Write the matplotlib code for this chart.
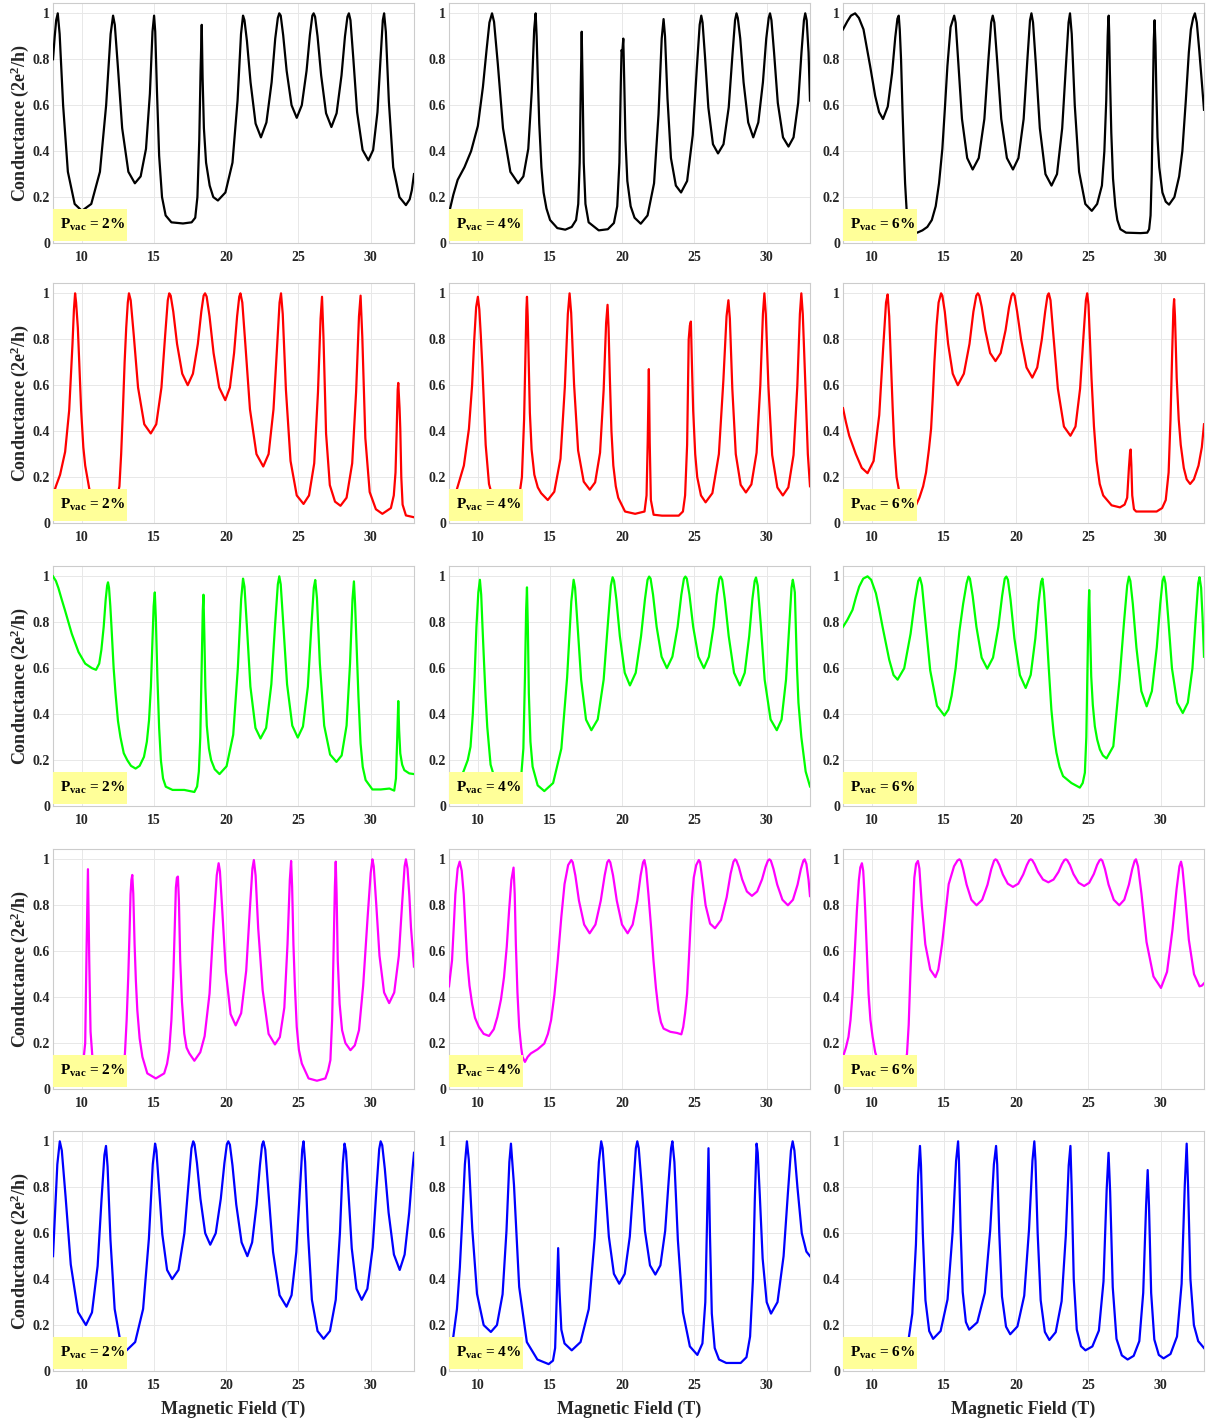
import matplotlib
matplotlib.use('Agg')
import matplotlib.pyplot as plt
from matplotlib.patches import Rectangle

plt.rcParams['font.family'] = ['Liberation Serif', 'DejaVu Serif']
plt.rcParams['font.weight'] = 'bold'
plt.rcParams['mathtext.fontset'] = 'custom'
plt.rcParams['mathtext.rm'] = 'Liberation Serif:bold'
plt.rcParams['mathtext.bf'] = 'Liberation Serif:bold'
plt.rcParams['mathtext.it'] = 'Liberation Serif:bold'

# conductance curves, (field T, conductance 2e^2/h)
black_2 = [(8.0, 0.80), (8.12, 0.90), (8.22, 0.97), (8.33, 1.0), (8.46, 0.91), (8.70, 0.60), (9.03, 0.31), (9.50, 0.17),
           (10.0, 0.14), (10.65, 0.17), (11.25, 0.31), (11.68, 0.60), (11.99, 0.91), (12.16, 0.99), (12.28, 0.95),
           (12.49, 0.77), (12.79, 0.50), (13.22, 0.31), (13.67, 0.26), (14.07, 0.29), (14.44, 0.41), (14.71, 0.65),
           (14.89, 0.92), (15.0, 0.99), (15.08, 0.92), (15.2, 0.66), (15.35, 0.38), (15.55, 0.2), (15.8, 0.12),
           (16.2, 0.09), (17.0, 0.085), (17.6, 0.09), (17.85, 0.11), (18.0, 0.2), (18.13, 0.45), (18.22, 0.75),
           (18.3, 0.95), (18.36, 0.72), (18.45, 0.5), (18.6, 0.35), (18.85, 0.25), (19.1, 0.2), (19.42, 0.185),
           (19.94, 0.22), (20.43, 0.35), (20.78, 0.62), (21.02, 0.91), (21.16, 0.99), (21.26, 0.97), (21.43, 0.88),
           (21.68, 0.70), (22.03, 0.52), (22.4, 0.46), (22.78, 0.525), (23.14, 0.70), (23.39, 0.89), (23.57, 0.98),
           (23.67, 1.0), (23.77, 0.99), (23.94, 0.905), (24.18, 0.75), (24.52, 0.60), (24.88, 0.545), (25.23, 0.60),
           (25.56, 0.75), (25.79, 0.905), (25.96, 0.99), (26.05, 1.0), (26.15, 0.985), (26.32, 0.90), (26.57, 0.73),
           (26.91, 0.565), (27.28, 0.505), (27.64, 0.565), (27.98, 0.73), (28.22, 0.90), (28.39, 0.985), (28.49, 1.0),
           (28.60, 0.97), (28.79, 0.81), (29.06, 0.57), (29.44, 0.405), (29.84, 0.36), (30.17, 0.405), (30.47, 0.57),
           (30.69, 0.81), (30.84, 0.97), (30.93, 1.0), (31.05, 0.92), (31.26, 0.615), (31.56, 0.33), (31.99, 0.20),
           (32.44, 0.165), (32.7, 0.19), (32.85, 0.23), (33.0, 0.30)]
black_4 = [(8.0, 0.13), (8.3, 0.21), (8.6, 0.275), (9.07, 0.33), (9.53, 0.40), (10.0, 0.51), (10.35, 0.68), (10.6, 0.84),
           (10.8, 0.96), (10.98, 1.0), (11.12, 0.963), (11.38, 0.78), (11.74, 0.50), (12.25, 0.31), (12.79, 0.26),
           (13.15, 0.29), (13.49, 0.41), (13.73, 0.66), (13.90, 0.93), (14.0, 1.0), (14.07, 0.9), (14.15, 0.72),
           (14.25, 0.52), (14.4, 0.33), (14.55, 0.22), (14.75, 0.15), (15.0, 0.10), (15.5, 0.065), (16.05, 0.058),
           (16.5, 0.07), (16.8, 0.1), (16.95, 0.17), (17.05, 0.35), (17.13, 0.7), (17.19, 0.92), (17.25, 0.7),
           (17.33, 0.35), (17.45, 0.17), (17.67, 0.09), (18.37, 0.055), (19.0, 0.06), (19.42, 0.087), (19.65, 0.16),
           (19.8, 0.35), (19.9, 0.7), (19.95, 0.84), (20.0, 0.83), (20.07, 0.89), (20.13, 0.72), (20.22, 0.45),
           (20.35, 0.27), (20.58, 0.16), (20.85, 0.11), (21.28, 0.084), (21.75, 0.12), (22.20, 0.26), (22.51, 0.56),
           (22.73, 0.89), (22.86, 0.975), (22.96, 0.90), (23.13, 0.63), (23.37, 0.37), (23.71, 0.25), (24.07, 0.22),
           (24.49, 0.27), (24.88, 0.47), (25.16, 0.76), (25.36, 0.95), (25.47, 0.99), (25.56, 0.96), (25.73, 0.81),
           (25.96, 0.59), (26.28, 0.43), (26.63, 0.39), (27.01, 0.43), (27.37, 0.59), (27.63, 0.82), (27.81, 0.97),
           (27.91, 1.0), (28.0, 0.98), (28.17, 0.89), (28.40, 0.70), (28.72, 0.525), (29.07, 0.46), (29.42, 0.525),
           (29.74, 0.70), (29.97, 0.89), (30.14, 0.98), (30.23, 1.0), (30.33, 0.97), (30.51, 0.83), (30.77, 0.61),
           (31.13, 0.46), (31.51, 0.42), (31.86, 0.46), (32.18, 0.61), (32.41, 0.83), (32.58, 0.97), (32.67, 1.0),
           (32.77, 0.97), (32.9, 0.83), (33.0, 0.62)]
black_6 = [(8.0, 0.93), (8.3, 0.965), (8.55, 0.99), (8.84, 1.0), (9.1, 0.98), (9.42, 0.93), (9.88, 0.77), (10.23, 0.64),
           (10.5, 0.57), (10.77, 0.54), (11.10, 0.594), (11.40, 0.74), (11.62, 0.896), (11.77, 0.977), (11.86, 0.99),
           (11.93, 0.93), (12.02, 0.80), (12.12, 0.58), (12.21, 0.41), (12.3, 0.26), (12.4, 0.15), (12.6, 0.08),
           (12.85, 0.05), (13.14, 0.045), (13.5, 0.055), (13.84, 0.07), (14.15, 0.10), (14.42, 0.16), (14.65, 0.26),
           (14.88, 0.41), (15.05, 0.58), (15.23, 0.77), (15.45, 0.94), (15.7, 0.99), (15.80, 0.96), (15.98, 0.79),
           (16.24, 0.54), (16.60, 0.37), (16.98, 0.32), (17.40, 0.37), (17.79, 0.54), (18.06, 0.79), (18.26, 0.96),
           (18.37, 0.99), (18.48, 0.96), (18.68, 0.79), (18.96, 0.54), (19.35, 0.37), (19.77, 0.32), (20.15, 0.37),
           (20.51, 0.54), (20.77, 0.80), (20.95, 0.97), (21.05, 1.0), (21.16, 0.96), (21.36, 0.775), (21.63, 0.50),
           (22.02, 0.30), (22.44, 0.25), (22.82, 0.30), (23.18, 0.50), (23.44, 0.775), (23.62, 0.96), (23.72, 1.0),
           (23.84, 0.91), (24.05, 0.60), (24.35, 0.31), (24.78, 0.17), (25.23, 0.14), (25.6, 0.17), (25.93, 0.25),
           (26.1, 0.4), (26.23, 0.62), (26.33, 0.9), (26.37, 0.97), (26.4, 0.99), (26.44, 0.9), (26.48, 0.75),
           (26.58, 0.48), (26.7, 0.28), (26.86, 0.16), (27.0, 0.1), (27.21, 0.06), (27.6, 0.045), (28.6, 0.043),
           (29.07, 0.045), (29.2, 0.06), (29.3, 0.12), (29.38, 0.3), (29.45, 0.6), (29.52, 0.88), (29.58, 0.97),
           (29.64, 0.86), (29.7, 0.66), (29.78, 0.46), (29.9, 0.33), (30.12, 0.22), (30.35, 0.18), (30.58, 0.167),
           (30.95, 0.2), (31.28, 0.29), (31.5, 0.4), (31.74, 0.62), (31.95, 0.83), (32.09, 0.93), (32.25, 0.98),
           (32.37, 1.0), (32.5, 0.96), (32.67, 0.84), (32.85, 0.70), (33.0, 0.58)]

red_2 = [(8.0, 0.12), (8.2, 0.16), (8.49, 0.21), (8.84, 0.31), (9.12, 0.49), (9.35, 0.78), (9.45, 0.93), (9.53, 1.0),
         (9.6, 0.96), (9.72, 0.85), (9.83, 0.68), (9.95, 0.49), (10.1, 0.33), (10.23, 0.25), (10.51, 0.15), (11.0, 0.06),
         (11.6, 0.03), (12.2, 0.07), (12.5, 0.13), (12.6, 0.16), (12.72, 0.3), (12.84, 0.49), (12.96, 0.7),
         (13.07, 0.85), (13.18, 0.96), (13.26, 1.0), (13.38, 0.97), (13.59, 0.82), (13.89, 0.59), (14.32, 0.43),
         (14.77, 0.39), (15.15, 0.43), (15.51, 0.59), (15.77, 0.82), (15.95, 0.97), (16.05, 1.0), (16.15, 0.99),
         (16.33, 0.92), (16.59, 0.78), (16.95, 0.65), (17.33, 0.60), (17.69, 0.65), (18.03, 0.78), (18.27, 0.92),
         (18.43, 0.99), (18.53, 1.0), (18.64, 0.986), (18.84, 0.90), (19.12, 0.74), (19.51, 0.59), (19.93, 0.535),
         (20.25, 0.59), (20.54, 0.74), (20.75, 0.90), (20.90, 0.986), (20.98, 1.0), (21.11, 0.96), (21.33, 0.77),
         (21.64, 0.495), (22.09, 0.30), (22.56, 0.246), (22.93, 0.30), (23.27, 0.495), (23.52, 0.77), (23.69, 0.96),
         (23.79, 1.0), (23.91, 0.91), (24.13, 0.58), (24.45, 0.27), (24.88, 0.12), (25.35, 0.083), (25.73, 0.12),
         (26.09, 0.26), (26.35, 0.57), (26.53, 0.89), (26.63, 0.985), (26.73, 0.81), (26.91, 0.39), (27.17, 0.165),
         (27.53, 0.093), (27.91, 0.075), (28.33, 0.11), (28.72, 0.26), (28.99, 0.57), (29.19, 0.90), (29.3, 0.99),
         (29.42, 0.81), (29.63, 0.37), (29.93, 0.135), (30.36, 0.06), (30.81, 0.04), (31.4, 0.065), (31.6, 0.12),
         (31.72, 0.22), (31.8, 0.4), (31.87, 0.58), (31.91, 0.61), (31.95, 0.56), (32.0, 0.5), (32.05, 0.41),
         (32.12, 0.2), (32.21, 0.08), (32.44, 0.033), (33.0, 0.025)]
red_4 = [(8.0, 0.05), (8.3, 0.09), (8.56, 0.15), (9.03, 0.25), (9.38, 0.41), (9.6, 0.6), (9.75, 0.8), (9.88, 0.94),
         (10.0, 0.985), (10.1, 0.93), (10.2, 0.82), (10.31, 0.68), (10.43, 0.5), (10.54, 0.34), (10.77, 0.17),
         (11.2, 0.07), (11.9, 0.03), (12.5, 0.06), (12.85, 0.11), (13.05, 0.2), (13.2, 0.45), (13.3, 0.75),
         (13.36, 0.93), (13.4, 0.985), (13.45, 0.9), (13.52, 0.7), (13.6, 0.48), (13.72, 0.32), (13.91, 0.21),
         (14.15, 0.155), (14.38, 0.13), (14.84, 0.10), (15.29, 0.136), (15.72, 0.28), (16.02, 0.59), (16.23, 0.91),
         (16.35, 1.0), (16.46, 0.915), (16.66, 0.605), (16.94, 0.316), (17.33, 0.18), (17.75, 0.145), (18.12, 0.177),
         (18.46, 0.306), (18.71, 0.58), (18.88, 0.87), (18.98, 0.95), (19.05, 0.85), (19.14, 0.63), (19.25, 0.4),
         (19.38, 0.25), (19.55, 0.16), (19.72, 0.11), (20.19, 0.05), (20.89, 0.04), (21.54, 0.05), (21.68, 0.12),
         (21.76, 0.35), (21.84, 0.67), (21.9, 0.35), (21.98, 0.1), (22.17, 0.036), (22.75, 0.032), (23.91, 0.032),
         (24.2, 0.05), (24.35, 0.12), (24.49, 0.34), (24.6, 0.8), (24.68, 0.86), (24.75, 0.877), (24.82, 0.7),
         (24.91, 0.49), (25.05, 0.3), (25.19, 0.2), (25.45, 0.12), (25.77, 0.09), (26.24, 0.13), (26.69, 0.3),
         (27.0, 0.62), (27.22, 0.9), (27.35, 0.97), (27.45, 0.89), (27.62, 0.585), (27.86, 0.30), (28.2, 0.166),
         (28.56, 0.133), (28.94, 0.168), (29.30, 0.306), (29.56, 0.60), (29.74, 0.91), (29.84, 1.0), (29.94, 0.91),
         (30.12, 0.595), (30.38, 0.296), (30.74, 0.155), (31.12, 0.12), (31.5, 0.155), (31.86, 0.296), (32.12, 0.595),
         (32.3, 0.91), (32.4, 1.0), (32.5, 0.91), (32.68, 0.6), (32.85, 0.3), (33.0, 0.16)]
red_6 = [(8.0, 0.50), (8.2, 0.44), (8.43, 0.38), (8.89, 0.30), (9.3, 0.24), (9.7, 0.217), (10.12, 0.27), (10.51, 0.47),
         (10.78, 0.76), (10.98, 0.96), (11.09, 0.995), (11.2, 0.9), (11.32, 0.70), (11.44, 0.5), (11.55, 0.34),
         (11.71, 0.2), (12.0, 0.1), (12.5, 0.05), (13.0, 0.07), (13.29, 0.11), (13.55, 0.16), (13.75, 0.22),
         (13.95, 0.32), (14.1, 0.41), (14.22, 0.55), (14.33, 0.70), (14.48, 0.86), (14.62, 0.96), (14.79, 1.0),
         (14.88, 0.99), (15.05, 0.92), (15.28, 0.78), (15.60, 0.65), (15.95, 0.60), (16.37, 0.65), (16.76, 0.78),
         (17.03, 0.92), (17.23, 0.99), (17.34, 1.0), (17.44, 0.99), (17.61, 0.94), (17.85, 0.84), (18.19, 0.74),
         (18.56, 0.705), (18.92, 0.74), (19.26, 0.84), (19.5, 0.94), (19.67, 0.99), (19.77, 1.0), (19.88, 0.99),
         (20.06, 0.92), (20.33, 0.80), (20.71, 0.677), (21.11, 0.633), (21.45, 0.677), (21.77, 0.80), (22.0, 0.92),
         (22.16, 0.99), (22.25, 1.0), (22.37, 0.97), (22.58, 0.81), (22.88, 0.585), (23.30, 0.42), (23.75, 0.38),
         (24.10, 0.42), (24.42, 0.585), (24.65, 0.81), (24.82, 0.97), (24.91, 1.0), (25.0, 0.95), (25.1, 0.8),
         (25.21, 0.63), (25.38, 0.42), (25.56, 0.27), (25.78, 0.17), (26.02, 0.12), (26.6, 0.077), (27.18, 0.068),
         (27.5, 0.08), (27.68, 0.11), (27.8, 0.24), (27.88, 0.31), (27.92, 0.32), (27.97, 0.25), (28.03, 0.12),
         (28.15, 0.06), (28.3, 0.05), (29.72, 0.05), (30.1, 0.065), (30.35, 0.1), (30.55, 0.22), (30.68, 0.45),
         (30.8, 0.75), (30.88, 0.93), (30.93, 0.975), (30.99, 0.9), (31.11, 0.63), (31.25, 0.45), (31.39, 0.34),
         (31.6, 0.24), (31.8, 0.19), (32.04, 0.17), (32.3, 0.19), (32.62, 0.25), (32.85, 0.33), (33.0, 0.43)]

green_2 = [(8.0, 1.0), (8.2, 0.98), (8.37, 0.95), (8.6, 0.9), (8.84, 0.85), (9.3, 0.75), (9.77, 0.67), (10.23, 0.62),
           (10.7, 0.60), (10.98, 0.593), (11.2, 0.62), (11.35, 0.68), (11.51, 0.78), (11.65, 0.9), (11.75, 0.96),
           (11.81, 0.974), (11.88, 0.95), (11.97, 0.87), (12.05, 0.78), (12.2, 0.6), (12.33, 0.49), (12.5, 0.37),
           (12.67, 0.30), (12.9, 0.23), (13.14, 0.20), (13.4, 0.175), (13.72, 0.163), (14.0, 0.175), (14.3, 0.214),
           (14.5, 0.28), (14.65, 0.373), (14.78, 0.52), (14.88, 0.706), (14.97, 0.87), (15.05, 0.93), (15.12, 0.82),
           (15.23, 0.56), (15.35, 0.34), (15.47, 0.20), (15.62, 0.12), (15.81, 0.084), (16.28, 0.07), (17.09, 0.07),
           (17.79, 0.061), (17.98, 0.085), (18.1, 0.15), (18.2, 0.3), (18.3, 0.62), (18.37, 0.85), (18.42, 0.92),
           (18.48, 0.75), (18.55, 0.52), (18.65, 0.35), (18.8, 0.25), (18.95, 0.20), (19.2, 0.16), (19.53, 0.139),
           (20.02, 0.173), (20.48, 0.31), (20.80, 0.60), (21.03, 0.90), (21.16, 0.99), (21.26, 0.955), (21.43, 0.78),
           (21.67, 0.52), (22.02, 0.34), (22.37, 0.294), (22.76, 0.34), (23.12, 0.53), (23.38, 0.79), (23.57, 0.965),
           (23.67, 1.0), (23.77, 0.965), (23.95, 0.79), (24.21, 0.53), (24.57, 0.35), (24.95, 0.298), (25.31, 0.346),
           (25.65, 0.52), (25.89, 0.78), (26.06, 0.95), (26.16, 0.984), (26.28, 0.905), (26.48, 0.62), (26.78, 0.35),
           (27.19, 0.224), (27.63, 0.192), (27.99, 0.22), (28.33, 0.35), (28.57, 0.62), (28.74, 0.90), (28.84, 0.978),
           (28.92, 0.88), (29.02, 0.706), (29.15, 0.48), (29.3, 0.272), (29.45, 0.17), (29.65, 0.113), (30.12, 0.072),
           (30.7, 0.072), (31.3, 0.076), (31.63, 0.067), (31.75, 0.12), (31.84, 0.3), (31.91, 0.457), (31.97, 0.33),
           (32.05, 0.229), (32.18, 0.18), (32.33, 0.156), (32.67, 0.142), (33.0, 0.139)]
green_4 = [(8.0, 0.05), (8.5, 0.08), (9.02, 0.153), (9.3, 0.2), (9.49, 0.258), (9.65, 0.4), (9.77, 0.56), (9.9, 0.78),
           (10.03, 0.93), (10.14, 0.985), (10.23, 0.92), (10.32, 0.78), (10.42, 0.634), (10.53, 0.48), (10.65, 0.344),
           (10.88, 0.18), (11.4, 0.07), (12.0, 0.03), (12.7, 0.07), (13.0, 0.13), (13.15, 0.25), (13.26, 0.56),
           (13.34, 0.85), (13.4, 0.952), (13.46, 0.78), (13.53, 0.49), (13.64, 0.28), (13.79, 0.171), (14.14, 0.09),
           (14.6, 0.065), (15.21, 0.10), (15.78, 0.25), (16.18, 0.56), (16.47, 0.89), (16.63, 0.985), (16.73, 0.95),
           (16.9, 0.79), (17.15, 0.55), (17.49, 0.376), (17.86, 0.33), (18.30, 0.377), (18.71, 0.55), (19.01, 0.80),
           (19.21, 0.96), (19.33, 0.996), (19.43, 0.98), (19.59, 0.90), (19.83, 0.74), (20.17, 0.58), (20.53, 0.525),
           (20.93, 0.58), (21.30, 0.74), (21.57, 0.90), (21.75, 0.985), (21.86, 0.999), (21.96, 0.99), (22.13, 0.92),
           (22.38, 0.78), (22.72, 0.65), (23.09, 0.60), (23.47, 0.65), (23.83, 0.78), (24.09, 0.92), (24.27, 0.99),
           (24.37, 0.999), (24.47, 0.99), (24.65, 0.92), (24.91, 0.78), (25.27, 0.65), (25.65, 0.60), (26.0, 0.65),
           (26.32, 0.78), (26.55, 0.92), (26.72, 0.99), (26.81, 0.999), (26.92, 0.985), (27.10, 0.90), (27.37, 0.74),
           (27.74, 0.58), (28.14, 0.525), (28.48, 0.58), (28.79, 0.74), (29.01, 0.90), (29.17, 0.98), (29.26, 0.995),
           (29.38, 0.96), (29.58, 0.80), (29.86, 0.55), (30.27, 0.377), (30.7, 0.33), (31.03, 0.376), (31.34, 0.55),
           (31.57, 0.79), (31.72, 0.95), (31.81, 0.985), (31.88, 0.96), (31.95, 0.93), (32.1, 0.6), (32.2, 0.45),
           (32.4, 0.3), (32.7, 0.15), (33.0, 0.085)]
green_6 = [(8.0, 0.78), (8.3, 0.81), (8.66, 0.854), (8.9, 0.91), (9.12, 0.955), (9.4, 0.99), (9.7, 1.0), (9.95, 0.985),
           (10.28, 0.926), (10.5, 0.86), (10.74, 0.78), (11.2, 0.637), (11.5, 0.57), (11.78, 0.55), (12.24, 0.60),
           (12.68, 0.75), (12.99, 0.90), (13.21, 0.98), (13.33, 0.994), (13.47, 0.96), (13.70, 0.81), (14.04, 0.59),
           (14.51, 0.436), (15.02, 0.394), (15.3, 0.42), (15.52, 0.48), (15.8, 0.6), (16.06, 0.76), (16.32, 0.88),
           (16.56, 0.97), (16.69, 0.999), (16.79, 0.99), (16.98, 0.915), (17.24, 0.78), (17.60, 0.646), (17.99, 0.598),
           (18.39, 0.646), (18.76, 0.78), (19.02, 0.915), (19.20, 0.99), (19.31, 0.999), (19.42, 0.985), (19.60, 0.90),
           (19.87, 0.73), (20.25, 0.57), (20.65, 0.514), (21.0, 0.571), (21.32, 0.73), (21.55, 0.89), (21.72, 0.976),
           (21.81, 0.99), (21.92, 0.93), (22.08, 0.78), (22.25, 0.6), (22.43, 0.42), (22.6, 0.31), (22.78, 0.232),
           (23.0, 0.17), (23.24, 0.13), (23.82, 0.10), (24.4, 0.08), (24.6, 0.1), (24.75, 0.145), (24.85, 0.3),
           (24.93, 0.6), (25.0, 0.85), (25.05, 0.94), (25.1, 0.8), (25.19, 0.564), (25.3, 0.44), (25.44, 0.347),
           (25.6, 0.29), (25.79, 0.246), (26.0, 0.22), (26.25, 0.207), (26.72, 0.26), (27.15, 0.55), (27.46, 0.8),
           (27.68, 0.96), (27.8, 0.999), (27.9, 0.98), (28.07, 0.88), (28.32, 0.69), (28.66, 0.50), (29.03, 0.434),
           (29.39, 0.50), (29.73, 0.69), (29.97, 0.88), (30.13, 0.98), (30.23, 0.999), (30.33, 0.97), (30.52, 0.82),
           (30.78, 0.60), (31.14, 0.45), (31.53, 0.405), (31.88, 0.45), (32.2, 0.60), (32.43, 0.82), (32.6, 0.97),
           (32.69, 0.996), (32.8, 0.95), (32.9, 0.82), (33.0, 0.65)]

magenta_2 = [(8.0, 0.02), (9.0, 0.03), (9.8, 0.06), (10.1, 0.12), (10.23, 0.2), (10.33, 0.63), (10.42, 0.957),
             (10.51, 0.56), (10.6, 0.25), (10.75, 0.12), (11.0, 0.05), (11.8, 0.02), (12.6, 0.06), (12.85, 0.11),
             (12.98, 0.152), (13.1, 0.3), (13.21, 0.487), (13.3, 0.68), (13.37, 0.848), (13.43, 0.91), (13.49, 0.932),
             (13.56, 0.85), (13.65, 0.63), (13.74, 0.47), (13.84, 0.342), (14.0, 0.22), (14.19, 0.14), (14.53, 0.068),
             (15.12, 0.046), (15.7, 0.068), (15.9, 0.11), (16.05, 0.169), (16.2, 0.3), (16.33, 0.487), (16.43, 0.7),
             (16.51, 0.877), (16.58, 0.92), (16.65, 0.925), (16.72, 0.82), (16.81, 0.559), (16.93, 0.38),
             (17.09, 0.241), (17.25, 0.18), (17.44, 0.155), (17.79, 0.123), (18.2, 0.16), (18.5, 0.23), (18.84, 0.415),
             (19.1, 0.7), (19.34, 0.93), (19.47, 0.983), (19.56, 0.948), (19.73, 0.77), (19.97, 0.51), (20.30, 0.326),
             (20.65, 0.277), (21.03, 0.33), (21.38, 0.515), (21.63, 0.78), (21.81, 0.96), (21.91, 0.997), (22.03, 0.93),
             (22.21, 0.70), (22.52, 0.43), (22.93, 0.24), (23.37, 0.194), (23.71, 0.226), (24.02, 0.354), (24.24, 0.63),
             (24.40, 0.91), (24.49, 0.993), (24.56, 0.88), (24.65, 0.63), (24.75, 0.45), (24.88, 0.27), (25.03, 0.17),
             (25.23, 0.111), (25.7, 0.046), (26.28, 0.036), (26.86, 0.046), (27.05, 0.08), (27.21, 0.126), (27.33, 0.3),
             (27.44, 0.63), (27.52, 0.88), (27.58, 0.99), (27.64, 0.85), (27.72, 0.56), (27.85, 0.37), (28.02, 0.256),
             (28.25, 0.2), (28.6, 0.169), (28.9, 0.19), (29.19, 0.256), (29.48, 0.45), (29.79, 0.75), (30.0, 0.94),
             (30.12, 1.0), (30.21, 0.97), (30.38, 0.81), (30.61, 0.58), (30.93, 0.42), (31.28, 0.374), (31.63, 0.42),
             (31.95, 0.58), (32.18, 0.81), (32.35, 0.97), (32.44, 1.0), (32.55, 0.96), (32.68, 0.84), (32.79, 0.704),
             (33.0, 0.533)]
magenta_4 = [(8.0, 0.447), (8.21, 0.56), (8.34, 0.72), (8.44, 0.848), (8.6, 0.96), (8.74, 0.99), (8.88, 0.95),
             (9.02, 0.848), (9.14, 0.7), (9.26, 0.56), (9.42, 0.45), (9.6, 0.371), (9.8, 0.31), (10.07, 0.27),
             (10.4, 0.24), (10.77, 0.231), (11.1, 0.26), (11.35, 0.314), (11.6, 0.39), (11.81, 0.487), (12.0, 0.62),
             (12.16, 0.776), (12.32, 0.91), (12.47, 0.964), (12.55, 0.85), (12.63, 0.63), (12.74, 0.42), (12.86, 0.27),
             (13.0, 0.18), (13.09, 0.14), (13.26, 0.118), (13.45, 0.14), (13.67, 0.155), (14.14, 0.173), (14.6, 0.198),
             (14.85, 0.24), (15.07, 0.30), (15.3, 0.41), (15.53, 0.56), (15.78, 0.75), (16.0, 0.892), (16.25, 0.975),
             (16.47, 0.997), (16.57, 0.987), (16.75, 0.93), (17.0, 0.82), (17.36, 0.716), (17.74, 0.678),
             (18.14, 0.716), (18.51, 0.82), (18.78, 0.93), (18.96, 0.987), (19.07, 0.997), (19.17, 0.987),
             (19.36, 0.93), (19.62, 0.82), (19.98, 0.716), (20.37, 0.678), (20.72, 0.716), (21.04, 0.82), (21.27, 0.93),
             (21.44, 0.987), (21.53, 0.997), (21.65, 0.96), (21.81, 0.848), (22.0, 0.7), (22.16, 0.56), (22.33, 0.44),
             (22.51, 0.342), (22.68, 0.29), (22.86, 0.263), (23.33, 0.249), (23.79, 0.244), (24.09, 0.238),
             (24.22, 0.27), (24.35, 0.33), (24.49, 0.415), (24.6, 0.55), (24.72, 0.704), (24.83, 0.83), (24.95, 0.92),
             (25.12, 0.975), (25.3, 0.997), (25.39, 0.988), (25.55, 0.91), (25.77, 0.8), (26.08, 0.72), (26.42, 0.70),
             (26.84, 0.736), (27.23, 0.835), (27.50, 0.937), (27.70, 0.99), (27.81, 1.0), (27.90, 0.995),
             (28.07, 0.967), (28.30, 0.913), (28.63, 0.86), (28.98, 0.841), (29.34, 0.86), (29.68, 0.913),
             (29.92, 0.967), (30.09, 0.995), (30.19, 1.0), (30.29, 0.994), (30.47, 0.958), (30.73, 0.89),
             (31.09, 0.824), (31.47, 0.80), (31.82, 0.824), (32.14, 0.89), (32.37, 0.958), (32.54, 0.994),
             (32.63, 1.0), (32.75, 0.98), (32.9, 0.91), (33.0, 0.84)]
magenta_6 = [(8.0, 0.14), (8.2, 0.18), (8.38, 0.227), (8.52, 0.3), (8.66, 0.415), (8.8, 0.58), (8.96, 0.776),
             (9.1, 0.91), (9.2, 0.965), (9.31, 0.983), (9.4, 0.95), (9.47, 0.87), (9.54, 0.776), (9.65, 0.6),
             (9.77, 0.415), (9.9, 0.3), (10.05, 0.227), (10.23, 0.16), (10.7, 0.07), (11.3, 0.03), (11.9, 0.06),
             (12.2, 0.1), (12.43, 0.152), (12.55, 0.28), (12.66, 0.487), (12.8, 0.72), (12.94, 0.92), (13.06, 0.98),
             (13.19, 0.993), (13.29, 0.96), (13.46, 0.8), (13.7, 0.63), (14.04, 0.52), (14.4, 0.487), (14.6, 0.52),
             (14.86, 0.63), (15.32, 0.892), (15.69, 0.97), (15.93, 0.995), (16.06, 1.0), (16.16, 0.994),
             (16.32, 0.958), (16.56, 0.89), (16.89, 0.824), (17.25, 0.80), (17.64, 0.824), (18.01, 0.89),
             (18.27, 0.958), (18.46, 0.994), (18.56, 1.0), (18.66, 0.996), (18.83, 0.975), (19.07, 0.934),
             (19.41, 0.894), (19.77, 0.88), (20.14, 0.894), (20.48, 0.934), (20.73, 0.975), (20.9, 0.996), (21.0, 1.0),
             (21.1, 0.997), (21.27, 0.979), (21.51, 0.945), (21.85, 0.912), (22.22, 0.90), (22.58, 0.912),
             (22.92, 0.945), (23.16, 0.979), (23.33, 0.997), (23.43, 1.0), (23.53, 0.996), (23.71, 0.976),
             (23.96, 0.936), (24.32, 0.898), (24.7, 0.884), (25.05, 0.898), (25.37, 0.936), (25.6, 0.976),
             (25.77, 0.996), (25.86, 1.0), (25.96, 0.994), (26.14, 0.958), (26.39, 0.89), (26.75, 0.824), (27.13, 0.80),
             (27.48, 0.824), (27.80, 0.89), (28.03, 0.958), (28.2, 0.994), (28.29, 1.0), (28.43, 0.97), (28.67, 0.85),
             (29.02, 0.64), (29.5, 0.49), (30.02, 0.44), (30.44, 0.51), (30.81, 0.69), (31.10, 0.87), (31.3, 0.97),
             (31.41, 0.99), (31.51, 0.96), (31.69, 0.84), (31.95, 0.65), (32.31, 0.5), (32.69, 0.447), (32.85, 0.45),
             (33.0, 0.46)]

blue_2 = [(8.0, 0.5), (8.15, 0.7), (8.3, 0.9), (8.47, 1.0), (8.61, 0.96), (8.87, 0.76), (9.23, 0.464), (9.74, 0.256),
          (10.28, 0.20), (10.70, 0.255), (11.09, 0.457), (11.36, 0.746), (11.56, 0.94), (11.67, 0.98), (11.78, 0.89),
          (11.98, 0.57), (12.27, 0.27), (12.67, 0.126), (13.1, 0.09), (13.69, 0.126), (14.24, 0.27), (14.64, 0.576),
          (14.91, 0.90), (15.07, 0.99), (15.16, 0.96), (15.33, 0.81), (15.57, 0.595), (15.90, 0.44), (16.25, 0.40),
          (16.69, 0.44), (17.10, 0.60), (17.39, 0.82), (17.59, 0.97), (17.71, 1.0), (17.80, 0.987), (17.97, 0.905),
          (18.21, 0.75), (18.54, 0.60), (18.89, 0.55), (19.27, 0.60), (19.62, 0.75), (19.87, 0.905), (20.04, 0.987),
          (20.14, 1.0), (20.25, 0.985), (20.43, 0.895), (20.69, 0.725), (21.06, 0.56), (21.46, 0.50), (21.79, 0.56),
          (22.10, 0.725), (22.33, 0.895), (22.48, 0.985), (22.57, 1.0), (22.7, 0.964), (22.92, 0.78), (23.24, 0.518),
          (23.69, 0.33), (24.17, 0.28), (24.52, 0.33), (24.85, 0.518), (25.09, 0.78), (25.26, 0.964), (25.35, 1.0),
          (25.46, 0.91), (25.66, 0.60), (25.93, 0.31), (26.32, 0.174), (26.74, 0.14), (27.18, 0.174), (27.58, 0.31),
          (27.87, 0.60), (28.07, 0.905), (28.19, 0.99), (28.29, 0.956), (28.45, 0.79), (28.69, 0.534), (29.02, 0.358),
          (29.38, 0.31), (29.77, 0.358), (30.14, 0.538), (30.40, 0.793), (30.59, 0.966), (30.69, 1.0), (30.8, 0.983),
          (30.98, 0.88), (31.24, 0.69), (31.61, 0.507), (32.01, 0.44), (32.35, 0.507), (32.67, 0.69), (32.9, 0.88),
          (33.0, 0.95)]
blue_4 = [(8.0, 0.08), (8.3, 0.15), (8.55, 0.27), (8.75, 0.45), (8.95, 0.7), (9.1, 0.9), (9.24, 1.0), (9.37, 0.92),
          (9.61, 0.62), (9.94, 0.336), (10.40, 0.20), (10.9, 0.17), (11.32, 0.20), (11.71, 0.334), (11.98, 0.61),
          (12.18, 0.91), (12.29, 0.99), (12.5, 0.81), (12.86, 0.366), (13.39, 0.126), (14.12, 0.05), (14.9, 0.03),
          (15.2, 0.045), (15.35, 0.1), (15.45, 0.3), (15.56, 0.535), (15.65, 0.35), (15.78, 0.18), (16.0, 0.12),
          (16.5, 0.09), (17.11, 0.126), (17.68, 0.27), (18.09, 0.58), (18.38, 0.91), (18.54, 1.0), (18.64, 0.97),
          (18.82, 0.81), (19.07, 0.585), (19.42, 0.423), (19.79, 0.38), (20.17, 0.423), (20.52, 0.585), (20.77, 0.81),
          (20.94, 0.97), (21.04, 1.0), (21.14, 0.97), (21.32, 0.826), (21.57, 0.61), (21.92, 0.46), (22.29, 0.42),
          (22.64, 0.46), (22.97, 0.61), (23.21, 0.826), (23.38, 0.97), (23.47, 1.0), (23.61, 0.91), (23.85, 0.57),
          (24.2, 0.256), (24.68, 0.107), (25.2, 0.07), (25.55, 0.12), (25.75, 0.3), (25.87, 0.65), (25.97, 0.97),
          (26.07, 0.6), (26.2, 0.25), (26.4, 0.1), (26.7, 0.05), (27.2, 0.035), (28.2, 0.035), (28.6, 0.06),
          (28.85, 0.15), (29.05, 0.4), (29.18, 0.75), (29.3, 0.99), (29.38, 0.95), (29.52, 0.77), (29.72, 0.49),
          (30.0, 0.30), (30.3, 0.25), (30.75, 0.30), (31.17, 0.50), (31.47, 0.775), (31.68, 0.96), (31.8, 1.0),
          (31.92, 0.96), (32.13, 0.8), (32.43, 0.6), (32.75, 0.52), (33.0, 0.50)]
blue_6 = [(8.0, 0.04), (9.5, 0.035), (11.0, 0.04), (12.2, 0.07), (12.5, 0.12), (12.8, 0.25), (13.05, 0.55), (13.2, 0.85),
          (13.33, 0.98), (13.40, 0.896), (13.53, 0.594), (13.71, 0.308), (13.97, 0.174), (14.24, 0.14), (14.76, 0.174),
          (15.24, 0.312), (15.59, 0.604), (15.83, 0.914), (15.97, 1.0), (16.03, 0.918), (16.14, 0.623), (16.29, 0.344),
          (16.51, 0.213), (16.74, 0.18), (17.30, 0.212), (17.82, 0.34), (18.19, 0.61), (18.45, 0.90), (18.6, 0.98),
          (18.68, 0.898), (18.82, 0.603), (19.01, 0.324), (19.29, 0.193), (19.58, 0.16), (20.08, 0.194), (20.55, 0.328),
          (20.88, 0.614), (21.12, 0.916), (21.25, 1.0), (21.33, 0.914), (21.48, 0.60), (21.69, 0.308), (21.98, 0.17),
          (22.29, 0.135), (22.73, 0.169), (23.14, 0.304), (23.43, 0.59), (23.63, 0.895), (23.75, 0.98), (23.83, 0.81),
          (23.98, 0.40), (24.19, 0.18), (24.48, 0.108), (24.79, 0.09), (25.27, 0.107), (25.72, 0.176), (26.04, 0.39),
          (26.26, 0.79), (26.39, 0.95), (26.50, 0.78), (26.68, 0.365), (26.94, 0.14), (27.31, 0.068), (27.71, 0.05),
          (28.13, 0.066), (28.52, 0.13), (28.79, 0.34), (28.99, 0.72), (29.1, 0.875), (29.19, 0.72), (29.34, 0.34),
          (29.56, 0.137), (29.87, 0.07), (30.2, 0.055), (30.68, 0.074), (31.13, 0.15), (31.45, 0.38), (31.67, 0.81),
          (31.8, 0.99), (31.9, 0.8), (32.06, 0.4), (32.3, 0.2), (32.6, 0.13), (33.0, 0.10)]

row_colors = ['black', '#ff0000', '#00ff00', '#ff00ff', '#0000ff']
row_curves = [[black_2, black_4, black_6],
              [red_2, red_4, red_6],
              [green_2, green_4, green_6],
              [magenta_2, magenta_4, magenta_6],
              [blue_2, blue_4, blue_6]]
vacancy = ['2%', '4%', '6%']
x_ticks = [10, 15, 20, 25, 30]
y_ticks = [0, 0.2, 0.4, 0.6, 0.8, 1]
y_tick_labels = ['0', '0.2', '0.4', '0.6', '0.8', '1']

W, H = 1222, 1426
col_left = [53, 449, 843]
row_bottom = [243, 523, 806, 1089, 1371]
ax_w, ax_h = 361, 240
text_col = '#262626'

fig = plt.figure(figsize=(W / 100, H / 100), dpi=100)

for r in range(5):
    for c in range(3):
        ax = fig.add_axes([col_left[c] / W, 1 - row_bottom[r] / H, ax_w / W, ax_h / H])
        xs, ys = zip(*row_curves[r][c])
        ax.plot(xs, ys, color=row_colors[r], lw=1.6, zorder=3, solid_joinstyle='round')
        ax.set_xlim(8, 33)
        ax.set_ylim(0, 1.045)
        ax.set_xticks(x_ticks)
        ax.set_yticks(y_ticks)
        ax.set_yticklabels(y_tick_labels)
        ax.grid(True, color='#e8e8e8', lw=0.7, zorder=0)
        ax.set_axisbelow(True)
        for s in ax.spines.values():
            s.set_color('#cccccc')
            s.set_linewidth(0.8)
        ax.tick_params(axis='both', length=0, labelsize=10, labelcolor=text_col)
        ax.tick_params(axis='x', pad=6)
        ax.tick_params(axis='y', pad=2)
        for lab in ax.get_xticklabels() + ax.get_yticklabels():
            lab.set_fontweight('bold')

        # yellow label box sits on top of the curve, as in the original
        ax.add_patch(Rectangle((0, 0.008), 0.206, 0.134, transform=ax.transAxes,
                               facecolor='#ffff99', edgecolor='none', zorder=5, clip_on=False))
        ax.text(0.02, 0.075, r'P$_{\mathrm{vac}}$ = ' + vacancy[c], transform=ax.transAxes,
                fontsize=11, fontweight='bold', color='black', va='center', ha='left', zorder=6)

        if c == 0:
            ax.set_ylabel(r'Conductance (2e$^{2}$/h)', fontsize=13, fontweight='bold', color=text_col)
            ax.yaxis.set_label_coords(-0.062, 0.5)
        if r == 4:
            ax.set_xlabel('Magnetic Field (T)', fontsize=13, fontweight='bold', color=text_col)
            ax.xaxis.set_label_coords(0.5, -0.125)

fig.savefig('out.png', dpi=100)
